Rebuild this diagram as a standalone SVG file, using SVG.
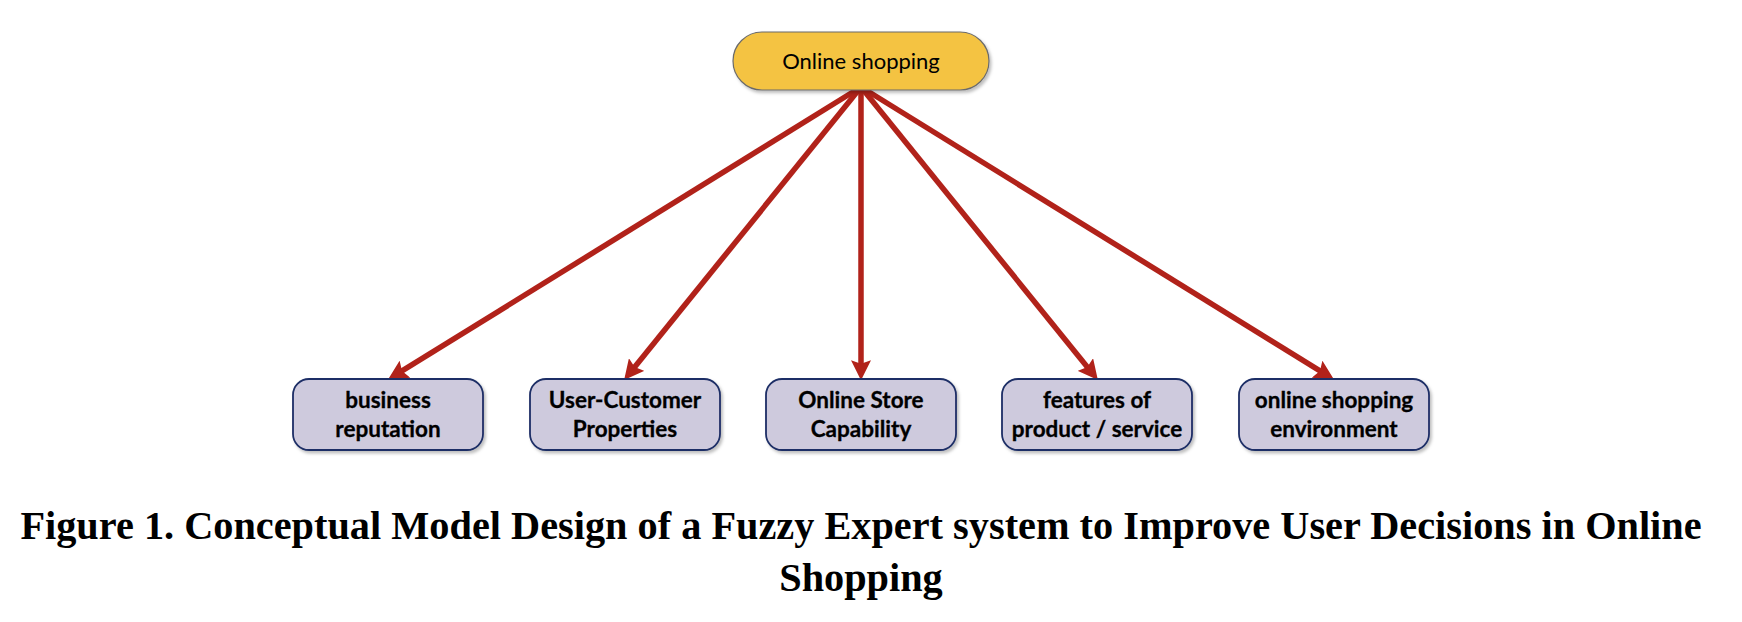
<svg xmlns="http://www.w3.org/2000/svg" width="1742" height="622" viewBox="0 0 1742 622">
  <defs>
    <style>
      .pill { fill: #F4C342; stroke: #6B6B6B; stroke-width: 1.2; }
      .box { fill: #CECADD; stroke: #1F2F66; stroke-width: 1.8; }
      .top-label { font-family: Lato, "Open Sans", "Liberation Sans", sans-serif; font-size: 22px; fill: #000; text-anchor: middle; }
      .label { font-family: Lato, "Open Sans", "Liberation Sans", sans-serif; font-size: 22.5px; font-weight: bold; fill: #000; stroke: #000; stroke-width: 0.3; text-anchor: middle; }
      .conn { stroke: #B1221A; stroke-width: 5.5; fill: none; marker-end: url(#arrow); }
      .caption { font-family: "Liberation Serif", "Times New Roman", serif; font-size: 40.3px; font-weight: bold; fill: #000; text-anchor: middle; }
    </style>
    <marker id="arrow" markerUnits="userSpaceOnUse" markerWidth="20" markerHeight="20" viewBox="0 0 18 18" refX="6" refY="9" orient="auto">
      <path d="M0,0 L18,9 L0,18 L3,9 Z" fill="#B1221A"/>
    </marker>
    <filter id="shadow" x="-10%" y="-10%" width="125%" height="130%">
      <feDropShadow dx="2" dy="2.5" stdDeviation="1.5" flood-color="#000" flood-opacity="0.25"/>
    </filter>
  </defs>
  <rect width="1742" height="622" fill="#FFFFFF"/>

  <g id="connectors">
    <line class="conn" x1="861" y1="87" x2="399.2" y2="372.7"/>
    <line class="conn" x1="861" y1="87" x2="632.5" y2="369.7"/>
    <line class="conn" x1="861" y1="87" x2="861" y2="367"/>
    <line class="conn" x1="861" y1="87" x2="1089.5" y2="369.7"/>
    <line class="conn" x1="861" y1="87" x2="1322.8" y2="372.7"/>
  </g>

  <g id="node-online-shopping">
    <rect class="pill" x="733" y="32" width="256" height="58" rx="29" ry="29" filter="url(#shadow)"/>
    <text class="top-label" x="861" y="69">Online shopping</text>
  </g>

  <g id="node-business-reputation">
    <rect class="box" x="293" y="379" width="190" height="71" rx="16" ry="16" filter="url(#shadow)"/>
    <text class="label" x="388" y="408">business</text>
    <text class="label" x="388" y="437">reputation</text>
  </g>

  <g id="node-user-customer">
    <rect class="box" x="530" y="379" width="190" height="71" rx="16" ry="16" filter="url(#shadow)"/>
    <text class="label" x="625" y="408">User-Customer</text>
    <text class="label" x="625" y="437">Properties</text>
  </g>

  <g id="node-online-store">
    <rect class="box" x="766" y="379" width="190" height="71" rx="16" ry="16" filter="url(#shadow)"/>
    <text class="label" x="861" y="408">Online Store</text>
    <text class="label" x="861" y="437">Capability</text>
  </g>

  <g id="node-features">
    <rect class="box" x="1002" y="379" width="190" height="71" rx="16" ry="16" filter="url(#shadow)"/>
    <text class="label" x="1097" y="408">features of</text>
    <text class="label" x="1097" y="437">product / service</text>
  </g>

  <g id="node-environment">
    <rect class="box" x="1239" y="379" width="190" height="71" rx="16" ry="16" filter="url(#shadow)"/>
    <text class="label" x="1334" y="408">online shopping</text>
    <text class="label" x="1334" y="437">environment</text>
  </g>

  <g id="caption">
    <text class="caption" x="861" y="539">Figure 1. Conceptual Model Design of a Fuzzy Expert system to Improve User Decisions in Online</text>
    <text class="caption" x="861" y="591">Shopping</text>
  </g>
</svg>
